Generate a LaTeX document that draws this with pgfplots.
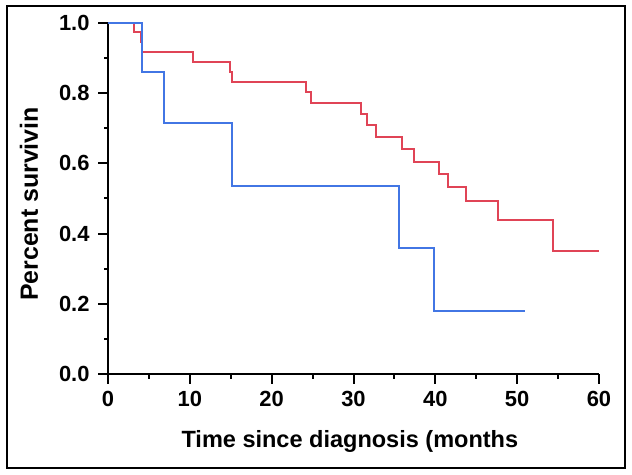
\documentclass[border=0pt]{standalone}
\usepackage{pgfplots}
\pgfplotsset{compat=1.18}
\usepackage{fontspec}
\setmainfont{Liberation Sans}
\definecolor{kmred}{RGB}{224,68,86}
\definecolor{kmblue}{RGB}{66,118,228}
\begin{document}
\begin{tikzpicture}
\useasboundingbox (0,0) rectangle (632bp,475bp);
\draw[line width=2bp] (7bp,7bp) rectangle (625bp,469bp);
\begin{axis}[
  at={(108bp,100.7bp)}, anchor=south west,
  scale only axis, width=491bp, height=351.6bp,
  xmin=0, xmax=60, ymin=0, ymax=1,
  axis x line*=bottom, axis y line*=left,
  axis line style={line width=2bp},
  clip=false,
  xtick={0,10,...,60},
  ytick={0,0.2,...,1.0},
  major tick length=0pt,
  tick style={draw=none},
  /pgf/number format/assume math mode=true,
  yticklabel={\pgfmathprintnumber[fixed,fixed zerofill,precision=1]{\tick}},
  tick label style={font=\fontsize{22}{26}\selectfont\bfseries},
  xticklabel style={anchor=north, yshift=-13bp},
  yticklabel style={anchor=east, xshift=-15bp},
  xlabel={Time since diagnosis (months},
  ylabel={Percent survivin},
  xlabel style={font=\fontsize{23.6}{28}\selectfont\bfseries, at={(axis description cs:0.4926,-0.2096)}, anchor=base},
  ylabel style={font=\fontsize{25}{30}\selectfont\bfseries, at={(axis description cs:-0.1426,0.4844)}, anchor=base},
]
\addplot[const plot, kmred, line width=2bp] coordinates {
(0,1) (3.2,0.973) (4.0,0.944) (4.2,0.917) (10.4,0.889) (14.9,0.861) (15.2,0.832)
(24.2,0.802) (24.8,0.772) (30.9,0.741) (31.6,0.709) (32.8,0.676) (35.9,0.640)
(37.4,0.605) (40.4,0.569) (41.5,0.534) (43.75,0.494) (47.7,0.439) (54.4,0.351) (60.05,0.351)
};
\addplot[const plot, kmblue, line width=2bp] coordinates {
(0,1) (4.1,0.859) (6.8,0.716) (15.15,0.536) (35.6,0.358) (39.8,0.179) (50.9,0.179)
};
\pgfplotsinvokeforeach{0,10,20,30,40,50,60}{\draw[line width=2bp] (axis cs:#1,0) -- ++(0,-10bp);}
\pgfplotsinvokeforeach{5,15,25,35,45,55}{\draw[line width=2bp] (axis cs:#1,0) -- ++(0,-5bp);}
\pgfplotsinvokeforeach{0,0.2,0.4,0.6,0.8,1.0}{\draw[line width=2bp] (axis cs:0,#1) -- ++(-10bp,0);}
\pgfplotsinvokeforeach{0.1,0.3,0.5,0.7,0.9}{\draw[line width=2bp] (axis cs:0,#1) -- ++(-4bp,0);}
\end{axis}
\end{tikzpicture}
\end{document}
